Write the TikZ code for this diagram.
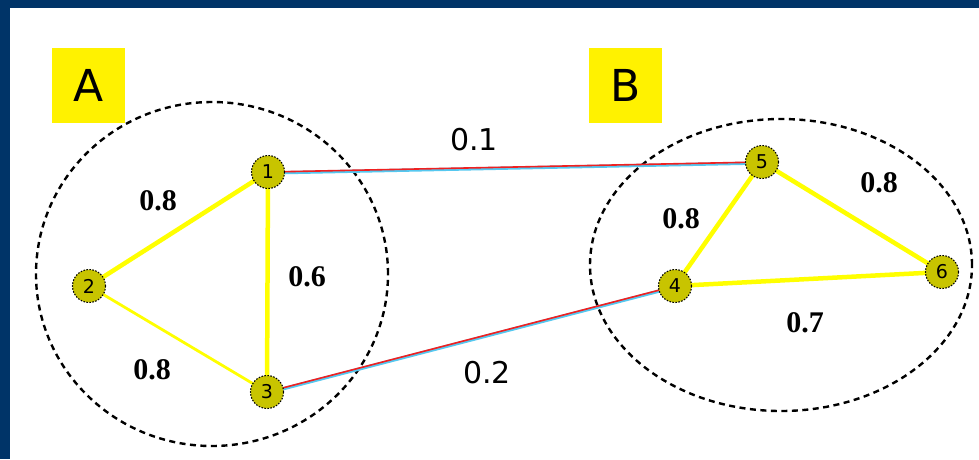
\documentclass[tikz,border=0pt]{standalone}
\usepackage{fontspec}
\setmainfont{Liberation Serif}
\newfontfamily\sansf{DejaVu Sans}
\usetikzlibrary{shapes.geometric}
\definecolor{frameblue}{HTML}{003468}
\definecolor{nodefill}{HTML}{C8C400}
\definecolor{edgeyellow}{HTML}{FFFF00}
\definecolor{lblue}{HTML}{55C8F0}
\definecolor{lred}{HTML}{F02020}
\begin{document}
\begin{tikzpicture}[x=1pt,y=-1pt,
  vtx/.style={circle, draw=black, dash pattern=on 1.5pt off 1.5pt, line width=1.1pt, fill=nodefill, minimum size=33pt, inner sep=0pt, font=\sansf\fontsize{19}{19}\selectfont},
  grp/.style={ellipse, draw=black, dashed, dash pattern=on 6pt off 4.5pt, line width=2.4pt, inner sep=0pt},
  tag/.style={fill=yellow, minimum width=73pt, minimum height=75pt, inner sep=0pt, font=\sansf\fontsize{44}{44}\selectfont},
  yel/.style={edgeyellow, line width=4.5pt},
  yelthin/.style={edgeyellow, line width=2.8pt},
  wlbl/.style={font=\fontsize{30}{30}\selectfont\bfseries},
  slbl/.style={font=\sansf\fontsize{30}{30}\selectfont},
  linkblue/.style={lblue, line width=3.2pt},
  linkred/.style={lred, line width=1.6pt}
]
\useasboundingbox (0,0) rectangle (979,459);
\fill[white] (0,0) rectangle (979,459);
\fill[frameblue] (0,0) rectangle (979,8);
\fill[frameblue] (0,0) rectangle (10,459);

\node[grp, minimum width=352pt, minimum height=344pt] (ga) at (212,274) {};
\node[grp, minimum width=382pt, minimum height=292pt] (gb) at (781,265) {};

\node[tag] (ta) at (88.5,85.5) {A};
\node[tag] (tb) at (625.5,85.5) {B};

\coordinate (c1) at (268,172);
\coordinate (c2) at (89,286);
\coordinate (c3) at (267,392);
\coordinate (c4) at (675,286);
\coordinate (c5) at (762,162);
\coordinate (c6) at (942,272);

% edges
\draw[yel] (c1) -- (c2);
\draw[yel] (c1) -- (c3);
\draw[yelthin] (c2) -- (c3);
\draw[yel] (c5) -- (c4);
\draw[yel] (c5) -- (c6);
\draw[yel] (c4) -- (c6);
\draw[linkblue] ([yshift=-1pt]c1) -- ([yshift=-1pt]c5);
\draw[linkred] (c1) -- (c5);
\draw[linkblue] ([yshift=-1pt]c3) -- ([yshift=-1pt]c4);
\draw[linkred] (c3) -- (c4);

\node[vtx] (n1) at (c1) {1};
\node[vtx] (n2) at (c2) {2};
\node[vtx] (n3) at (c3) {3};
\node[vtx] (n4) at (c4) {4};
\node[vtx] (n5) at (c5) {5};
\node[vtx] (n6) at (c6) {6};

\node[wlbl] (l12) at (158,201) {0.8};
\node[wlbl] (l13) at (307,277) {0.6};
\node[wlbl] (l23) at (152,370) {0.8};
\node[slbl] (l15) at (474,140) {0.1};
\node[slbl] (l34) at (487,373) {0.2};
\node[wlbl] (l45) at (681,219) {0.8};
\node[wlbl] (l56) at (879,183) {0.8};
\node[wlbl] (l46) at (805,323) {0.7};
\end{tikzpicture}
\end{document}
